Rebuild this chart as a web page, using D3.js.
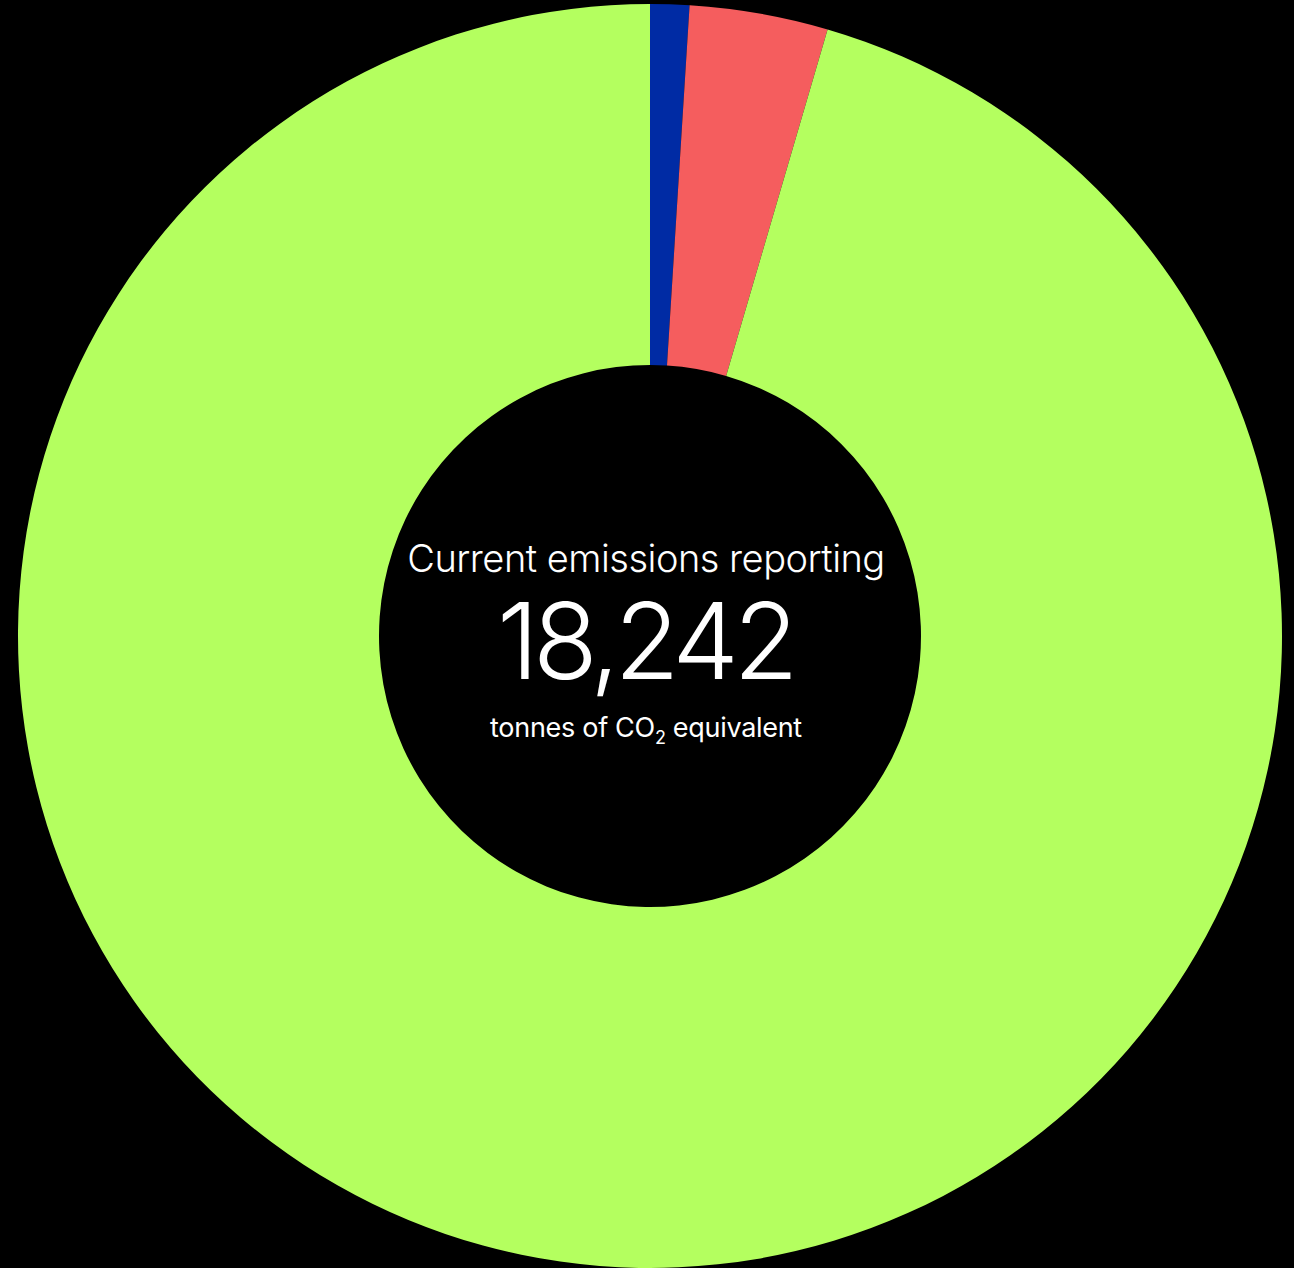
<!DOCTYPE html>
<html>
<head>
<meta charset="utf-8">
<script src="https://cdn.jsdelivr.net/npm/d3@7"></script>
<style>
  html, body { margin: 0; padding: 0; background: #000; }
  svg { display: block; }
</style>
</head>
<body>
<svg id="chart" width="1294" height="1268"></svg>
<script>
// emissions by scope (tonnes CO2e)
var categories = ["Scope 1", "Scope 2", "Scope 3"];
var values = [182, 645, 17415];
var colors = ["#002ba4", "#f55d5e", "#b4ff5f"];
var title = "Current emissions reporting";
var unitLabel = ["tonnes of CO", "2", " equivalent"];

var svg = d3.select("#chart");
var width = 1294, height = 1268;
var cx = 650, cy = 636;
var outerR = 632, innerR = 271;

var total = d3.sum(values);

var pie = d3.pie().sort(null).value(function(d) { return d; });
var arc = d3.arc().innerRadius(innerR).outerRadius(outerR);
var color = d3.scaleOrdinal().domain(categories).range(colors);

var g = svg.append("g").attr("transform", "translate(" + cx + "," + cy + ")");

g.selectAll("path")
  .data(pie(values))
  .enter().append("path")
  .attr("d", arc)
  .attr("fill", function(d, i) { return color(categories[i]); });

// centre labels
g.append("text")
  .attr("x", -4).attr("y", -64)
  .attr("text-anchor", "middle")
  .attr("fill", "#fff")
  .style("font-family", "Inter, sans-serif")
  .style("font-weight", 300)
  .style("font-size", "38px")
  .style("letter-spacing", "-0.5px")
  .text(title);

g.append("text")
  .attr("x", -5).attr("y", 43)
  .attr("text-anchor", "middle")
  .attr("fill", "#fff")
  .style("font-family", "Inter, sans-serif")
  .style("font-weight", 300)
  .style("font-size", "106px")
  .style("letter-spacing", "-5.5px")
  .text(d3.format(",")(total));

var sub = g.append("text")
  .attr("x", -4).attr("y", 101)
  .attr("text-anchor", "middle")
  .attr("fill", "#fff")
  .style("font-family", "Inter, sans-serif")
  .style("font-size", "27px")
  .style("letter-spacing", "-0.3px");
sub.append("tspan").text(unitLabel[0]);
sub.append("tspan").attr("dy", 7).style("font-size", "18px").text(unitLabel[1]);
sub.append("tspan").attr("dy", -7).text(unitLabel[2]);
</script>
</body>
</html>
